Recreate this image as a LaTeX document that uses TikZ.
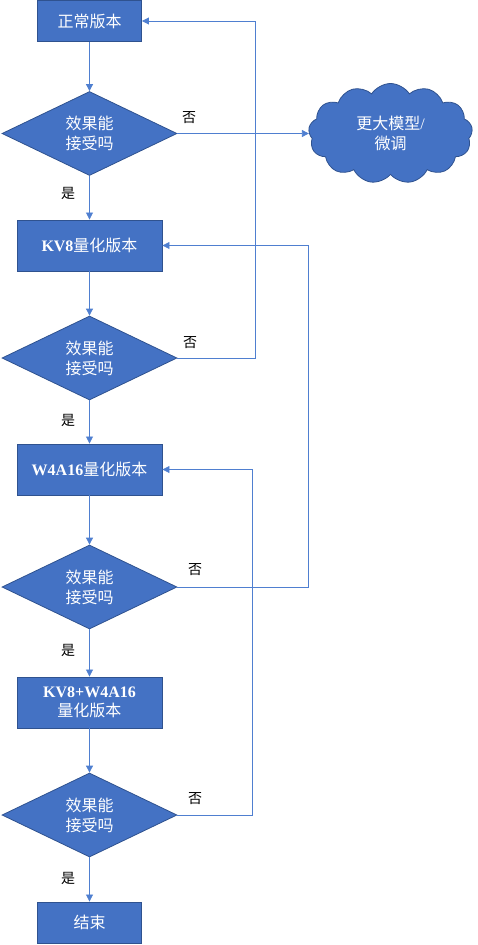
\documentclass[tikz,border=0pt]{standalone}
\usepackage{fontspec}
\setmainfont{Liberation Serif}
\newfontfamily\cjk{Noto Sans CJK SC}
\usetikzlibrary{shapes.geometric,shapes.symbols,arrows.meta}
\definecolor{fillb}{HTML}{4472C4}
\definecolor{edgeb}{HTML}{2F528F}
\definecolor{lineb}{HTML}{4F7FD0}
\tikzset{
  boxnode/.style={rectangle,draw=edgeb,line width=0.9pt,fill=fillb,text=white,font=\fontsize{16}{19}\selectfont,align=center,inner sep=0pt},
  decision/.style={diamond,draw=edgeb,line width=0.8pt,fill=fillb,text=white,font=\fontsize{16}{20}\selectfont\cjk,align=center,inner sep=0pt,minimum width=175pt,minimum height=84pt},
  conn/.style={draw=lineb,line width=0.8pt,-{Triangle[length=7pt,width=7pt]}},
  lbl/.style={font=\fontsize{14}{16}\selectfont\cjk,text=black}
}
\begin{document}
\begin{tikzpicture}[x=1pt,y=-1pt]
\useasboundingbox (0,0) rectangle (477,945);
\node[boxnode,minimum width=104pt,minimum height=41pt] (b1) at (89.5,21) {\cjk 正常版本};
\node[decision] (d1) at (89.5,133.5) {效果能\\接受吗};
\node[cloud,cloud puffs=13,cloud puff arc=115,aspect=1.65,draw=edgeb,line width=0.8pt,fill=fillb,text=white,font=\fontsize{16}{20}\selectfont,align=center,minimum width=164pt,minimum height=100pt,inner sep=0pt] (c1) at (390.5,133.5) {{\cjk 更大模型}/\\{\cjk 微调}};
\node[boxnode,minimum width=145pt,minimum height=51pt] (b2) at (89.5,245.5) {\textbf{KV8}{\cjk 量化版本}};
\node[decision] (d2) at (89.5,358) {效果能\\接受吗};
\node[boxnode,minimum width=145pt,minimum height=51pt] (b3) at (89.5,469.5) {\textbf{W4A16}{\cjk 量化版本}};
\node[decision] (d3) at (89.5,587) {效果能\\接受吗};
\node[boxnode,minimum width=145pt,minimum height=51pt] (b4) at (89.5,702.5) {\textbf{KV8+W4A16}\\{\cjk 量化版本}};
\node[decision] (d4) at (89.5,815) {效果能\\接受吗};
\node[boxnode,minimum width=104pt,minimum height=41pt] (b5) at (89.5,922.5) {\cjk 结束};
\coordinate (r1) at (255,0);
\coordinate (r2) at (308,0);
\coordinate (r3) at (252,0);
\draw[conn] (b1) -- (d1);
\draw[conn] (d1) -- (b2);
\draw[conn] (b2) -- (d2);
\draw[conn] (d2) -- (b3);
\draw[conn] (b3) -- (d3);
\draw[conn] (d3) -- (b4);
\draw[conn] (b4) -- (d4);
\draw[conn] (d4) -- (b5);
\draw[conn] (d1.east) -- (d1.east -| c1.west);
\draw[conn] (d2.east) -- (d2.east -| r1) |- (b1.east);
\draw[conn] (d3.east) -- (d3.east -| r2) |- (b2.east);
\draw[conn] (d4.east) -- (d4.east -| r3) |- (b3.east);
\node[lbl] (n1) at (189,118) {否};
\node[lbl] (n2) at (190,343) {否};
\node[lbl] (n3) at (195,570) {否};
\node[lbl] (n4) at (195,799) {否};
\node[lbl] (y1) at (68,193) {是};
\node[lbl] (y2) at (68,420) {是};
\node[lbl] (y3) at (68,650) {是};
\node[lbl] (y4) at (68,878) {是};
\end{tikzpicture}
\end{document}
